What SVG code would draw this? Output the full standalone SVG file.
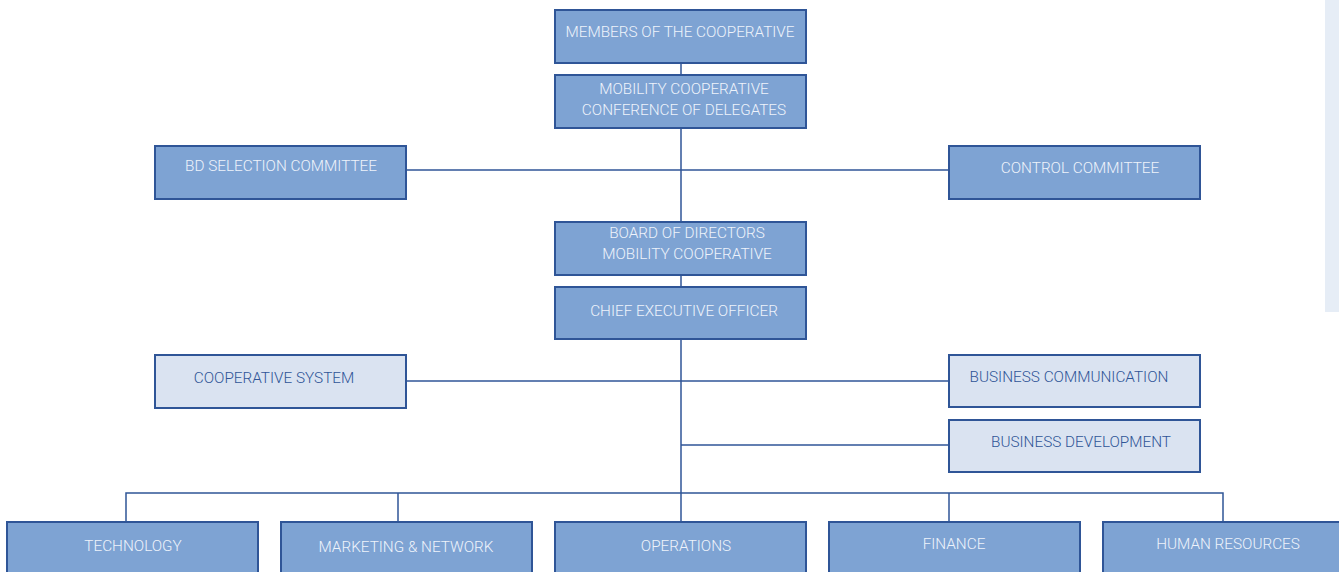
<svg xmlns="http://www.w3.org/2000/svg" width="1339" height="572" viewBox="0 0 1339 572">
<style>
.box{fill:#7ea3d3;stroke:#2f5597;stroke-width:2}
.lbox{fill:#dae3f1;stroke:#2f5597;stroke-width:2}
.t{font-family:Roboto,"Liberation Sans",sans-serif;font-weight:300;font-size:15.3px;fill:#eef3fb;text-anchor:middle;dominant-baseline:central}
.lt{font-family:Roboto,"Liberation Sans",sans-serif;font-weight:300;font-size:15.3px;fill:#2f5597;text-anchor:middle;dominant-baseline:central}
.c{stroke:#2f5597;stroke-width:1.5;fill:none}
</style>
<rect x="1325" y="0" width="14" height="312" fill="#e6edf6"/>
<g id="connectors">
<line class="c" x1="681" y1="63" x2="681" y2="522"/>
<line class="c" x1="406" y1="170" x2="949" y2="170"/>
<line class="c" x1="406" y1="381" x2="949" y2="381"/>
<line class="c" x1="681" y1="445" x2="949" y2="445"/>
<polyline class="c" points="126,522 126,493 1223,493 1223,522"/>
<line class="c" x1="398" y1="493" x2="398" y2="522"/>
<line class="c" x1="949" y1="493" x2="949" y2="522"/>
</g>
<g id="members"><rect class="box" x="555" y="10" width="251" height="53"/><text class="t" x="680" y="32">MEMBERS OF THE COOPERATIVE</text></g>
<g id="conference"><rect class="box" x="555" y="75" width="251" height="53"/><text class="t" x="684" y="89">MOBILITY COOPERATIVE</text><text class="t" x="684" y="110">CONFERENCE OF DELEGATES</text></g>
<g id="bd-selection"><rect class="box" x="155" y="146" width="251" height="53"/><text class="t" x="281" y="166">BD SELECTION COMMITTEE</text></g>
<g id="control"><rect class="box" x="949" y="146" width="251" height="53"/><text class="t" x="1080" y="168">CONTROL COMMITTEE</text></g>
<g id="board"><rect class="box" x="555" y="222" width="251" height="53"/><text class="t" x="687" y="233">BOARD OF DIRECTORS</text><text class="t" x="687" y="254">MOBILITY COOPERATIVE</text></g>
<g id="ceo"><rect class="box" x="555" y="287" width="251" height="52"/><text class="t" x="684" y="311">CHIEF EXECUTIVE OFFICER</text></g>
<g id="coop-system"><rect class="lbox" x="155" y="355" width="251" height="53"/><text class="lt" x="274" y="378">COOPERATIVE SYSTEM</text></g>
<g id="bus-comm"><rect class="lbox" x="949" y="355" width="251" height="52"/><text class="lt" x="1069" y="377">BUSINESS COMMUNICATION</text></g>
<g id="bus-dev"><rect class="lbox" x="949" y="420" width="251" height="52"/><text class="lt" x="1081" y="442">BUSINESS DEVELOPMENT</text></g>
<g id="technology"><rect class="box" x="7" y="522" width="251" height="60"/><text class="t" x="133" y="546">TECHNOLOGY</text></g>
<g id="marketing"><rect class="box" x="281" y="522" width="251" height="60"/><text class="t" x="406" y="547">MARKETING &amp; NETWORK</text></g>
<g id="operations"><rect class="box" x="555" y="522" width="251" height="60"/><text class="t" x="686" y="546">OPERATIONS</text></g>
<g id="finance"><rect class="box" x="829" y="522" width="251" height="60"/><text class="t" x="954" y="544">FINANCE</text></g>
<g id="hr"><rect class="box" x="1103" y="522" width="251" height="60"/><text class="t" x="1228" y="544">HUMAN RESOURCES</text></g>
</svg>
